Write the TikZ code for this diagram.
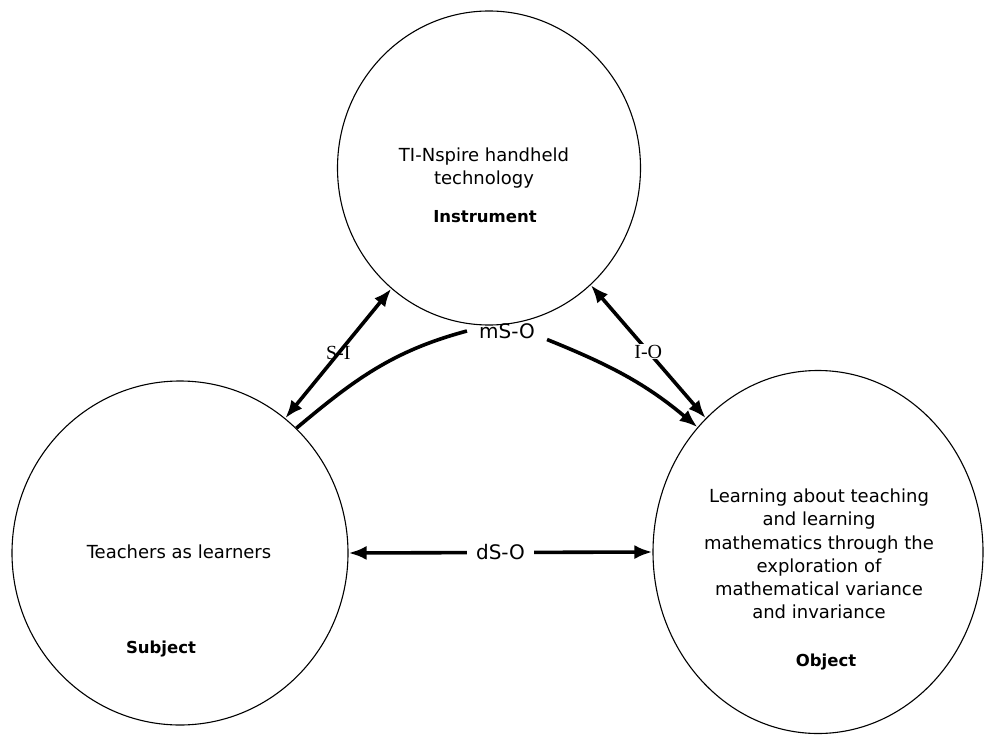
\documentclass[tikz,border=0pt]{standalone}
\usepackage{fontspec}
\setmainfont{DejaVu Sans}
\newfontfamily\lblserif{Liberation Serif}
\usetikzlibrary{shapes.geometric,arrows.meta}

\begin{document}
\begin{tikzpicture}[x=1pt,y=-1pt,
    ring/.style={ellipse,draw,line width=1.1pt,inner sep=0pt},
    body/.style={align=center,font=\fontsize{18}{23.3}\selectfont},
    role/.style={font=\fontsize{16.5}{20}\selectfont\bfseries},
    rel/.style={font=\fontsize{20}{24}\selectfont,inner sep=1pt},
    relserif/.style={font=\lblserif\fontsize{20}{24}\selectfont,inner sep=1pt},
    link/.style={line width=3.6pt},
    >={Latex[length=18pt,width=14pt]}]
    \useasboundingbox (0,0) rectangle (984,735);

    % the three corners
    \node[ring,minimum width=303pt,minimum height=314pt] (I) at (489,168) {};
    \node[ring,minimum width=336pt,minimum height=344pt] (S) at (180,553) {};
    \node[ring,minimum width=330pt,minimum height=363pt] (O) at (818,552) {};

    \node[body] (Itxt) at (484,168) {TI-Nspire handheld\\technology};
    \node[role] (Irole) at (485,217) {Instrument};
    \node[body] (Stxt) at (179,552) {Teachers as learners};
    \node[role] (Srole) at (161,649) {Subject};
    \node[body] (Otxt) at (819,554) {Learning about teaching\\and learning\\mathematics through the\\exploration of\\mathematical variance\\and invariance};
    \node[role] (Orole) at (826,662) {Object};

    \node[rel,inner xsep=12pt] (mSO) at (507,331) {mS-O};

    % the links
    \path (S.52) edge[link,<->] node[relserif] {S-I} (I.231);
    \path (I.-49) edge[link,<->] node[relserif,fill=white] {I-O} (O.130);
    \path (S.0) edge[link,<->] node[rel,fill=white,inner xsep=9pt] {dS-O} (O.180);
    \draw[link] (S.47) to[out=40,in=195] (mSO.west);
    \draw[link,->] (mSO.-12) to[out=-22,in=140] (O.134);
  \end{tikzpicture}
\end{document}
